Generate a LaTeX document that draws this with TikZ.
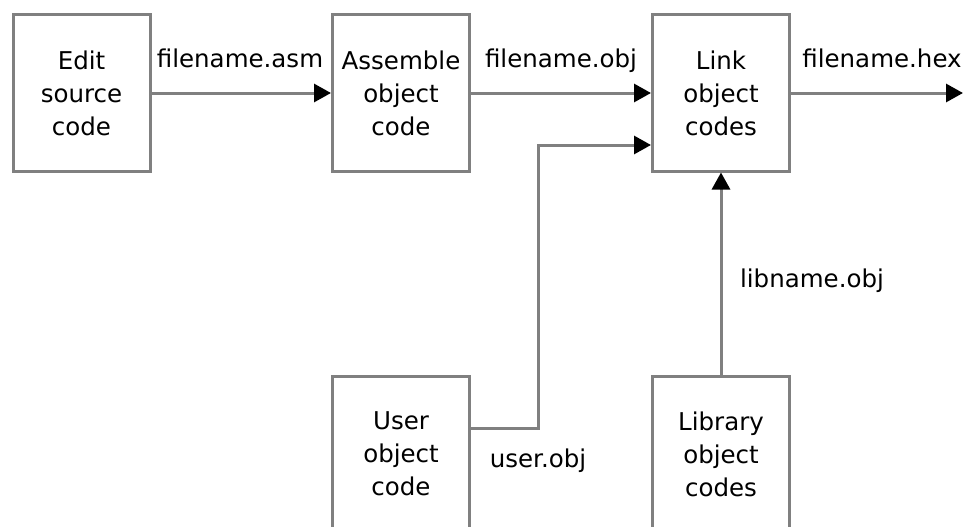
\documentclass[tikz,border=0pt]{standalone}
\usepackage{fontspec}
\setmainfont{DejaVu Sans}
\usetikzlibrary{arrows.meta}
\definecolor{edgegray}{RGB}{128,128,128}
\begin{document}
\begin{tikzpicture}[x=1pt,y=-1pt,
  stepbox/.style={draw=edgegray,line width=3pt,fill=white,minimum width=137pt,minimum height=156pt,
    inner sep=0pt,align=center,font=\fontsize{24.5}{33}\selectfont},
  lbl/.style={anchor=base,inner sep=0pt,font=\fontsize{24.5}{33}\selectfont},
  conn/.style={draw=edgegray,line width=3pt,-{Triangle[length=17pt,width=18pt,color=black]}},
  plain/.style={draw=edgegray,line width=3pt}]
\useasboundingbox (0,0) rectangle (966,527);
\node[stepbox] (edit) at (81.5,93) {Edit\\source\\code};
\node[stepbox] (asm) at (401,93) {Assemble\\object\\code};
\node[stepbox] (link) at (721,93) {Link\\object\\codes};
\node[stepbox] (user) at (401,454) {User\\object\\code};
\node[stepbox] (lib) at (721,454) {Library\\object\\codes};
\coordinate (out) at (963,93);
\coordinate (bend1) at (538,428);
\coordinate (bend2) at (538,145);
\draw[conn] (edit.east) -- (asm.west);
\draw[conn] (asm.east) -- (link.west);
\draw[conn] (link.east) -- (out);
\draw[conn] (user.east |- bend1) -- (bend1) -- (bend2) -- (link.west |- bend2);
\draw[conn] (lib.north) -- (link.south);
\node[lbl] (l1) at (240,67) {filename.asm};
\node[lbl] (l2) at (561,67) {filename.obj};
\node[lbl] (l3) at (882,67) {filename.hex};
\node[lbl] (l4) at (812,287) {libname.obj};
\node[lbl] (l5) at (538,467) {user.obj};
\end{tikzpicture}
\end{document}
